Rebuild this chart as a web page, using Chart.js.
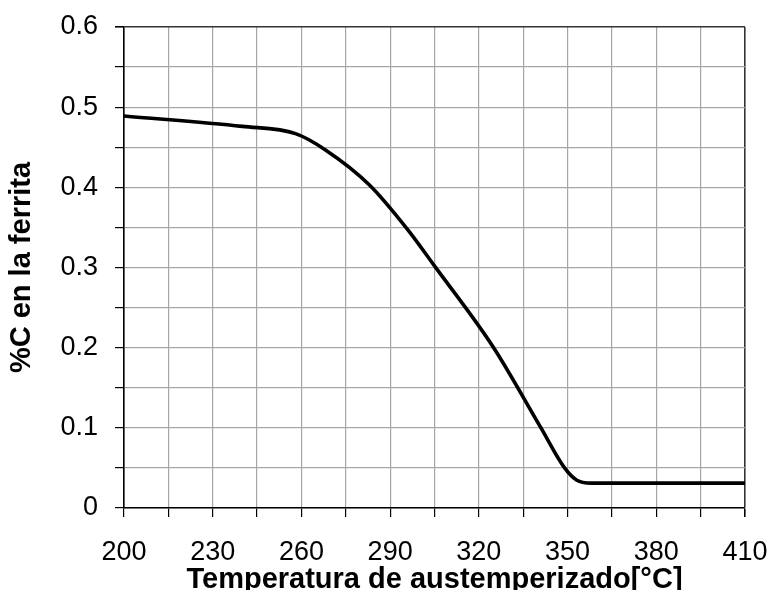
<!DOCTYPE html>
<html>
<head>
<meta charset="utf-8">
<script src="https://cdn.jsdelivr.net/npm/chart.js@4"></script>
<style>
  html, body { margin: 0; padding: 0; background: #fff; }
  #wrap { width: 771px; height: 590px; }
</style>
</head>
<body>
<div id="wrap"><canvas id="c" width="771" height="590"></canvas></div>
<script>
const temps = [200, 240, 258, 268, 283, 296, 305, 325, 341, 349, 353, 358, 410];
const carbon = [0.489, 0.476, 0.467, 0.447, 0.403, 0.347, 0.302, 0.200, 0.100, 0.050, 0.035, 0.031, 0.031];
const xLabelTicks = [200, 230, 260, 290, 320, 350, 380, 410];
const yLabelTicks = [0, 0.1, 0.2, 0.3, 0.4, 0.5, 0.6];

const gridGray = '#a6a6a6';
const tickFont = { family: 'Arial, "Liberation Sans", sans-serif', size: 27 };
const titleFont = { family: 'Arial, "Liberation Sans", sans-serif', size: 29, weight: 'bold', lineHeight: 1.2 };

const near = (a, b) => Math.abs(a - b) < 1e-6;

// keep tick labels from pushing the plot area inwards
const noPad = s => { s.paddingLeft = 0; s.paddingRight = 0; s.paddingTop = 0; s.paddingBottom = 0; };

new Chart(document.getElementById('c'), {
  type: 'line',
  data: {
    datasets: [{
      data: temps.map((t, i) => ({ x: t, y: carbon[i] })),
      borderColor: '#000',
      borderWidth: 3.6,
      pointRadius: 0,
      fill: false,
      cubicInterpolationMode: 'monotone'
    }]
  },
  options: {
    responsive: false,
    animation: false,
    layout: { autoPadding: false, padding: { top: 27, right: 26, left: 0, bottom: 0 } },
    plugins: { legend: { display: false }, tooltip: { enabled: false } },
    scales: {
      x: {
        type: 'linear',
        min: 200,
        max: 410,
        afterFit: s => { s.height = 82; noPad(s); },
        ticks: {
          stepSize: 15,
          autoSkip: false,
          maxRotation: 0,
          padding: 19,
          color: '#000',
          font: tickFont,
          callback: v => xLabelTicks.includes(v) ? String(v) : ''
        },
        grid: {
          color: c => c.tick && c.tick.value === 410 ? '#333' : gridGray,
          lineWidth: c => c.tick && c.tick.value === 410 ? 1.6 : 1.2,
          tickColor: '#000',
          tickLength: 9
        },
        border: { color: '#000', width: 1.6 },
        title: {
          display: true,
          text: 'Temperatura de austemperizado[°C]',
          color: '#000',
          font: titleFont,
          padding: { top: 0, bottom: -7 }
        }
      },
      y: {
        min: 0,
        max: 0.6,
        afterFit: s => { s.width = 124; noPad(s); },
        ticks: {
          stepSize: 0.05,
          autoSkip: false,
          padding: 17,
          color: '#000',
          font: tickFont,
          callback: v => {
            const hit = yLabelTicks.find(t => near(t, v));
            return hit === undefined ? '' : (hit === 0 ? '0' : hit.toFixed(1));
          }
        },
        grid: {
          color: c => c.tick && near(c.tick.value, 0.6) ? '#333' : gridGray,
          lineWidth: c => c.tick && near(c.tick.value, 0.6) ? 1.6 : 1.2,
          tickColor: '#000',
          tickLength: 9
        },
        border: { color: '#000', width: 1.6 },
        title: {
          display: true,
          text: '%C en la ferrita',
          color: '#000',
          font: titleFont,
          padding: { top: 5, bottom: 0 }
        }
      }
    }
  }
});
</script>
</body>
</html>
